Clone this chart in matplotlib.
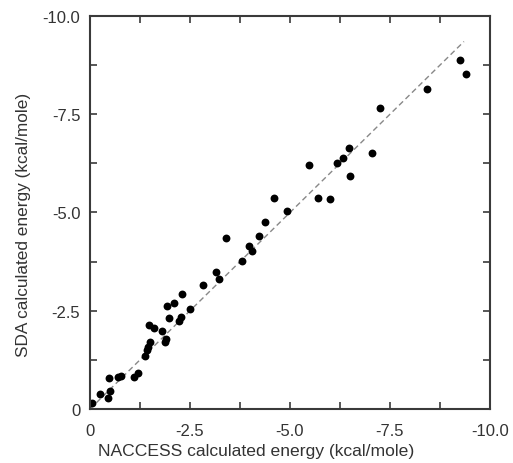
import numpy as np
import matplotlib.pyplot as plt
from matplotlib.ticker import MultipleLocator, FuncFormatter

# NACCESS vs SDA calculated energies (kcal/mole)
naccess = [-0.04, -0.26, -0.44, -0.51, -0.48, -0.69, -0.78, -1.10, -1.21,
           -1.37, -1.42, -1.46, -1.50, -1.88, -1.90, -1.47, -1.60, -1.79,
           -1.97, -2.23, -2.28, -2.51, -1.93, -2.11, -2.30, -2.83, -3.14,
           -3.23, -3.80, -3.98, -4.04, -3.39, -4.22, -4.38, -4.61, -4.93,
           -5.70, -6.00, -5.48, -6.17, -6.32, -6.48, -6.50, -7.05, -7.24,
           -8.43, -9.25, -9.39]
sda = [-0.15, -0.37, -0.28, -0.46, -0.78, -0.81, -0.85, -0.82, -0.92,
       -1.36, -1.51, -1.57, -1.71, -1.70, -1.78, -2.14, -2.05, -1.99,
       -2.31, -2.25, -2.34, -2.54, -2.62, -2.70, -2.93, -3.16, -3.48,
       -3.32, -3.77, -4.14, -4.02, -4.35, -4.39, -4.77, -5.38, -5.03,
       -5.38, -5.34, -6.21, -6.25, -6.39, -6.64, -5.94, -6.51, -7.65,
       -8.13, -8.89, -8.52]
fit_end = -9.35

axis_col = "#3a3a3a"
text_col = "#333333"
plt.rcParams['font.family'] = ['Liberation Sans', 'DejaVu Sans']

fig = plt.figure(figsize=(5.13, 4.64), dpi=100)
ax = fig.add_axes([0.1754, 0.1164, 0.7797, 0.847])

ax.plot([0, fit_end], [0, fit_end], linestyle=(0, (4, 2.5)), color="#888888",
        linewidth=1.0, zorder=1)
ax.scatter(naccess, sda, s=32, color="black", zorder=2, linewidths=0)

ax.set_xlim(0, -10)
ax.set_ylim(0, -10)

fmt = FuncFormatter(lambda v, p: "0" if abs(v) < 1e-9 else f"{v:.1f}")
for axis in (ax.xaxis, ax.yaxis):
    axis.set_major_locator(MultipleLocator(2.5))
    axis.set_minor_locator(MultipleLocator(1.25))
    axis.set_major_formatter(fmt)

ax.tick_params(which="both", direction="in", top=True, right=True,
               color=axis_col, width=1.2, labelsize=12, labelcolor=text_col)
ax.tick_params(which="major", length=5, pad=7)
ax.tick_params(axis="x", which="major", pad=10)
ax.tick_params(which="minor", length=5)
for s in ax.spines.values():
    s.set_color(axis_col)
    s.set_linewidth(1.5)

ax.set_xlabel("NACCESS calculated energy (kcal/mole)", fontsize=12.6,
              color=text_col)
ax.xaxis.set_label_coords(0.415, -0.086)
ax.set_ylabel("SDA calculated energy (kcal/mole)", fontsize=12.4,
              color=text_col)
ax.yaxis.set_label_coords(-0.148, 0.47)

fig.savefig("out.png", dpi=100)
